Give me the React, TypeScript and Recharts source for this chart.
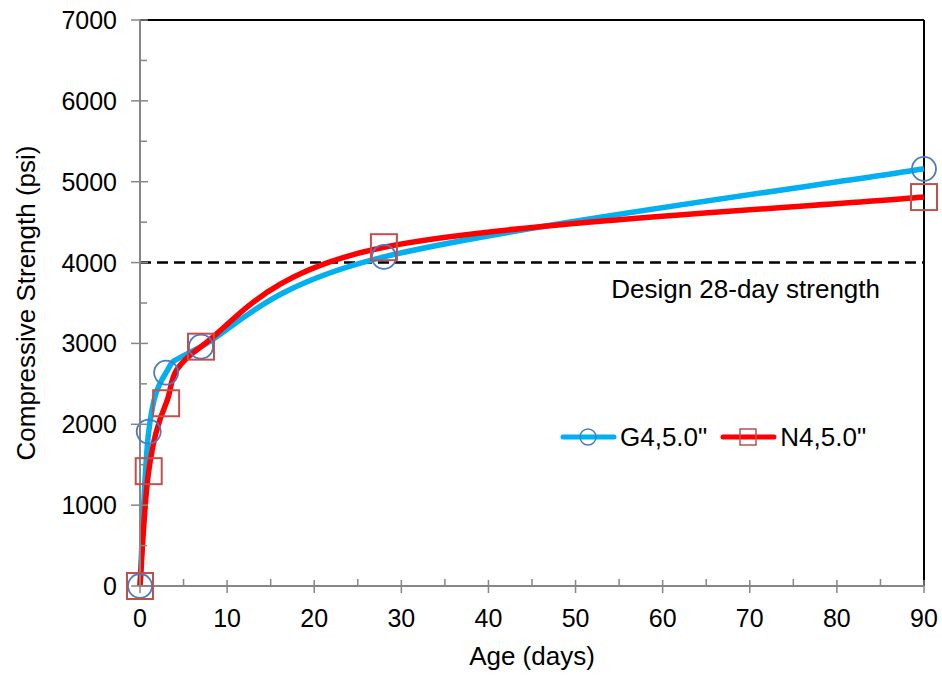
import React from 'react';
import { LineChart, Line, XAxis, YAxis, ReferenceLine, Legend } from 'recharts';

const ages = [0, 1, 3, 7, 28, 90];
const g4Strength = [0, 1910, 2640, 2960, 4070, 5160];
const n4Strength = [0, 1420, 2260, 2960, 4190, 4810];
const xTicks = [0, 5, 10, 15, 20, 25, 30, 35, 40, 45, 50, 55, 60, 65, 70, 75, 80, 85, 90];
const yTicks = [0, 500, 1000, 1500, 2000, 2500, 3000, 3500, 4000, 4500, 5000, 5500, 6000, 6500, 7000];
const designStrength = 4000;
const seriesNames = ['G4,5.0"', 'N4,5.0"'];

const data = ages.map((a, i) => ({ age: a, g4: g4Strength[i], n4: n4Strength[i] }));

const FONT = '"Liberation Sans", Arial, sans-serif';
const AXIS_GRAY = '#868686';
const BLUE = '#00B0F0';
const RED = '#FF0000';
const CIRCLE = '#4A7BC4';
const SQUARE = '#C0504D';

// Excel-like smoothed line (Catmull-Rom style Bezier through the points)
function excelSmooth(context: any) {
  let pts: number[][] = [];
  return {
    areaStart() {},
    areaEnd() {},
    lineStart() {
      pts = [];
    },
    point(x: number, y: number) {
      pts.push([+x, +y]);
    },
    lineEnd() {
      const n = pts.length;
      if (!n) return;
      context.moveTo(pts[0][0], pts[0][1]);
      for (let i = 0; i < n - 1; i++) {
        const p0 = pts[Math.max(i - 1, 0)];
        const p1 = pts[i];
        const p2 = pts[i + 1];
        const p3 = pts[Math.min(i + 2, n - 1)];
        const c1x = p1[0] + (p2[0] - p0[0]) / 6;
        const c1y = p1[1] + (p2[1] - p0[1]) / 6;
        const c2x = p2[0] - (p3[0] - p1[0]) / 6;
        const c2y = p2[1] - (p3[1] - p1[1]) / 6;
        context.bezierCurveTo(c1x, c1y, c2x, c2y, p2[0], p2[1]);
      }
    },
  };
}

const YTick = (props: any) => {
  const { x, y, payload } = props;
  const v = payload.value;
  const major = v % 1000 === 0;
  return (
    <g>
      {major ? (
        <line x1={x - 9} x2={x + 8} y1={y} y2={y} stroke={AXIS_GRAY} strokeWidth={1.5} />
      ) : (
        <line x1={x} x2={x + 7} y1={y} y2={y} stroke={AXIS_GRAY} strokeWidth={1.5} />
      )}
      {major && (
        <text x={x - 23} y={y + 9} textAnchor="end" fontSize={25} fontFamily={FONT} fill="#000">
          {v}
        </text>
      )}
    </g>
  );
};

const XTick = (props: any) => {
  const { x, y, payload } = props;
  const v = payload.value;
  const major = v % 10 === 0;
  return (
    <g>
      {major ? (
        <line x1={x} x2={x} y1={y - 6} y2={y + 7} stroke={AXIS_GRAY} strokeWidth={1.5} />
      ) : (
        <line x1={x} x2={x} y1={y - 7} y2={y} stroke={AXIS_GRAY} strokeWidth={1.5} />
      )}
      {major && (
        <text x={x} y={y + 41} textAnchor="middle" fontSize={25} fontFamily={FONT} fill="#000">
          {v}
        </text>
      )}
    </g>
  );
};

const CircleDot = (props: any) => {
  const { cx, cy, index } = props;
  if (cx == null || cy == null) return <g key={`c${index}`} />;
  return <circle key={`c${index}`} cx={cx} cy={cy} r={12} fill="none" stroke={CIRCLE} strokeWidth={1.8} />;
};

const SquareDot = (props: any) => {
  const { cx, cy, index } = props;
  if (cx == null || cy == null) return <g key={`s${index}`} />;
  return (
    <rect key={`s${index}`} x={cx - 13} y={cy - 13} width={26} height={26} fill="none" stroke={SQUARE} strokeWidth={2} />
  );
};

const LegendContent = (props: any) => {
  const { payload } = props;
  return (
    <div style={{ display: 'flex', alignItems: 'center', fontFamily: FONT, fontSize: 26, color: '#000' }}>
      {(payload || []).map((entry: any, i: number) => (
        <div key={i} style={{ display: 'flex', alignItems: 'center', marginRight: 13 }}>
          <svg width={57} height={30} style={{ display: 'block' }}>
            <line x1={3} x2={54} y1={15} y2={15} stroke={entry.color} strokeWidth={5} strokeLinecap="round" />
            {entry.dataKey === 'g4' ? (
              <circle cx={28} cy={15} r={8} fill="none" stroke={CIRCLE} strokeWidth={1.5} />
            ) : (
              <rect x={20} y={7} width={16} height={16} fill="none" stroke={SQUARE} strokeWidth={1.5} />
            )}
          </svg>
          <span style={{ marginLeft: 3, lineHeight: '30px' }}>{entry.value}</span>
        </div>
      ))}
    </div>
  );
};

export default function App() {
  return (
    <div style={{ position: 'absolute', left: 0, top: 0, width: 942, height: 675, background: '#fff' }}>
      <LineChart width={942} height={675} data={data} margin={{ top: 20, right: 18, left: 0, bottom: 0 }}>
        <XAxis
          type="number"
          dataKey="age"
          domain={[0, 90]}
          ticks={xTicks}
          interval={0}
          height={89}
          tickSize={0}
          tickMargin={0}
          tickLine={false}
          axisLine={{ stroke: AXIS_GRAY, strokeWidth: 2 }}
          tick={<XTick />}
          label={{
            content: (p: any) => {
              const vb = p.viewBox;
              return (
                <text x={vb.x + vb.width / 2} y={vb.y + 79} textAnchor="middle" fontSize={26} fontFamily={FONT} fill="#000">
                  Age (days)
                </text>
              );
            },
          }}
        />
        <YAxis
          type="number"
          domain={[0, 7000]}
          ticks={yTicks}
          interval={0}
          width={140}
          tickSize={0}
          tickMargin={0}
          tickLine={false}
          axisLine={{ stroke: AXIS_GRAY, strokeWidth: 2 }}
          tick={<YTick />}
          label={{
            content: (p: any) => {
              const vb = p.viewBox;
              const cy = vb.y + vb.height / 2;
              return (
                <text
                  x={26}
                  y={cy}
                  transform={`rotate(-90, 26, ${cy})`}
                  textAnchor="middle"
                  dominantBaseline="central"
                  fontSize={26}
                  fontFamily={FONT}
                  fill="#000"
                >
                  Compressive Strength (psi)
                </text>
              );
            },
          }}
        />
        <ReferenceLine y={7000} stroke="#000" strokeWidth={2} />
        <ReferenceLine x={90} stroke="#000" strokeWidth={2} />
        <ReferenceLine
          y={designStrength}
          stroke="#000"
          strokeWidth={2.5}
          strokeDasharray="11 6"
          label={{
            content: (p: any) => {
              const vb = p.viewBox;
              return (
                <text x={vb.x + vb.width - 44} y={vb.y + 35} textAnchor="end" fontSize={26} fontFamily={FONT} fill="#000">
                  Design 28-day strength
                </text>
              );
            },
          }}
        />
        <Legend
          layout="horizontal"
          verticalAlign="middle"
          align="center"
          content={<LegendContent />}
          wrapperStyle={{ position: 'absolute', left: 560, top: 422, width: 340, height: 30 }}
        />
        <Line
          dataKey="g4"
          name={seriesNames[0]}
          type={excelSmooth as any}
          stroke={BLUE}
          strokeWidth={5.5}
          dot={CircleDot}
          activeDot={false}
          isAnimationActive={false}
        />
        <Line
          dataKey="n4"
          name={seriesNames[1]}
          type={excelSmooth as any}
          stroke={RED}
          strokeWidth={5.5}
          dot={SquareDot}
          activeDot={false}
          isAnimationActive={false}
        />
      </LineChart>
    </div>
  );
}
